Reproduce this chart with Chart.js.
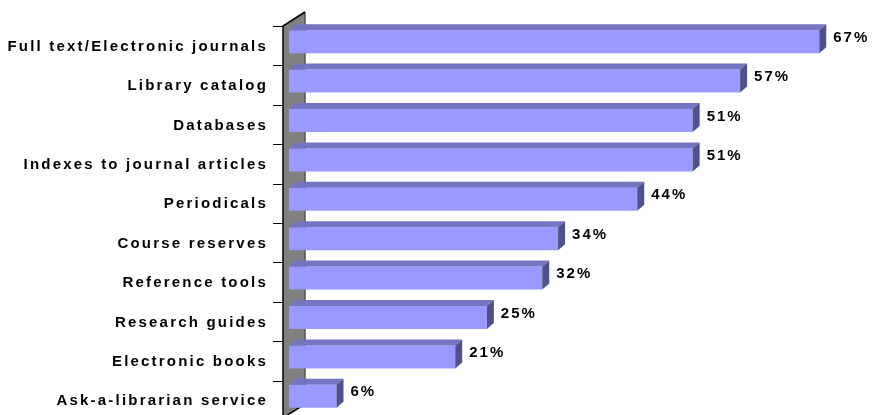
<!DOCTYPE html>
<html>
<head>
<meta charset="utf-8">
<script src="https://cdn.jsdelivr.net/npm/chart.js@4.4.1/dist/chart.umd.min.js"></script>
<style>
 html, body { margin: 0; padding: 0; background: #fff; overflow: hidden; }
 #wrap { width: 873px; height: 420px; }
</style>
</head>
<body>
<div id="wrap"><canvas id="usageChart" width="873" height="420"></canvas></div>
<script>
var categories = [
 "Full text/Electronic journals",
 "Library catalog",
 "Databases",
 "Indexes to journal articles",
 "Periodicals",
 "Course reserves",
 "Reference tools",
 "Research guides",
 "Electronic books",
 "Ask-a-librarian service",
];
var percentValues = [67, 57, 51, 51, 44, 34, 32, 25, 21, 6];

var frontColor = "#9999FF";
var topColor = "#7474C0";
var sideColor = "#50508C";
var depthX = 7;
var depthY = 6;
var labelFont = "bold 15px 'Liberation Sans', Arial, sans-serif";

// gray back wall with tick marks, drawn under the bars
var wallPlugin = {
 id: "wall",
 beforeDatasetsDraw: function (chart) {
  var ctx = chart.ctx;
  var area = chart.chartArea;
  var band = (area.bottom - area.top) / categories.length;
  var fx = area.left - 6;
  var fy = area.top + 4;
  var bx = area.left + 16;
  var by = area.top - 10;
  var frontBottom = area.bottom + 2;
  var backBottom = frontBottom - 14;

  ctx.save();
  ctx.fillStyle = "#808080";
  ctx.beginPath();
  ctx.moveTo(fx, fy);
  ctx.lineTo(bx, by);
  ctx.lineTo(bx, backBottom);
  ctx.lineTo(fx, frontBottom);
  ctx.closePath();
  ctx.fill();

  ctx.strokeStyle = "#555555";
  ctx.lineWidth = 1.5;
  ctx.beginPath();
  ctx.moveTo(bx, by);
  ctx.lineTo(bx, backBottom);
  ctx.stroke();

  ctx.strokeStyle = "#000000";
  ctx.beginPath();
  ctx.moveTo(bx, backBottom);
  ctx.lineTo(fx, frontBottom);
  ctx.lineTo(fx, fy);
  ctx.lineTo(bx, by);
  ctx.stroke();

  ctx.lineWidth = 1;
  for (var i = 0; i <= categories.length; i++) {
   var ty = Math.round(fy + i * band) + 0.5;
   ctx.beginPath();
   ctx.moveTo(fx - 10, ty);
   ctx.lineTo(fx, ty);
   ctx.stroke();
  }
  ctx.restore();
 },
};

// 3d top and side faces, value labels and category labels
var depthPlugin = {
 id: "depth",
 afterDatasetsDraw: function (chart) {
  var ctx = chart.ctx;
  var meta = chart.getDatasetMeta(0);
  var yScale = chart.scales.y;
  ctx.save();
  meta.data.forEach(function (bar, i) {
   var top = bar.y - bar.height / 2;
   var bottom = bar.y + bar.height / 2;
   var left = bar.base;
   var right = bar.x;

   ctx.fillStyle = topColor;
   ctx.beginPath();
   ctx.moveTo(left, top);
   ctx.lineTo(left + depthX, top - depthY);
   ctx.lineTo(right + depthX, top - depthY);
   ctx.lineTo(right, top);
   ctx.closePath();
   ctx.fill();

   ctx.fillStyle = sideColor;
   ctx.beginPath();
   ctx.moveTo(right, top);
   ctx.lineTo(right + depthX, top - depthY);
   ctx.lineTo(right + depthX, bottom - depthY);
   ctx.lineTo(right, bottom);
   ctx.closePath();
   ctx.fill();

   ctx.fillStyle = "#000000";
   ctx.font = labelFont;
   ctx.letterSpacing = "2px";
   ctx.textBaseline = "middle";
   ctx.textAlign = "left";
   ctx.fillText(percentValues[i] + "%", right + depthX + 7, bar.y - 4);

   ctx.letterSpacing = "2.2px";
   ctx.textAlign = "right";
   ctx.fillText(categories[i], chart.chartArea.left - 21, yScale.getPixelForTick(i) + 5);
  });
  ctx.restore();
 },
};

new Chart(document.getElementById("usageChart"), {
 type: "bar",
 data: {
  labels: categories,
  datasets: [
   {
    label: "Usage",
    data: percentValues,
    backgroundColor: frontColor,
    borderWidth: 0,
    categoryPercentage: 1,
    barPercentage: 0.585,
   },
  ],
 },
 options: {
  indexAxis: "y",
  responsive: false,
  animation: false,
  layout: {
   padding: { top: 22, bottom: 4, right: 30, left: 0 },
  },
  plugins: {
   legend: { display: false },
   tooltip: { enabled: false },
  },
  scales: {
   x: {
    display: false,
    min: 0,
    max: 70,
   },
   y: {
    grid: { display: false },
    border: { display: false },
    ticks: { display: false },
    afterFit: function (scale) {
     scale.width = 289;
    },
   },
  },
 },
 plugins: [wallPlugin, depthPlugin],
});
</script>
</body>
</html>
